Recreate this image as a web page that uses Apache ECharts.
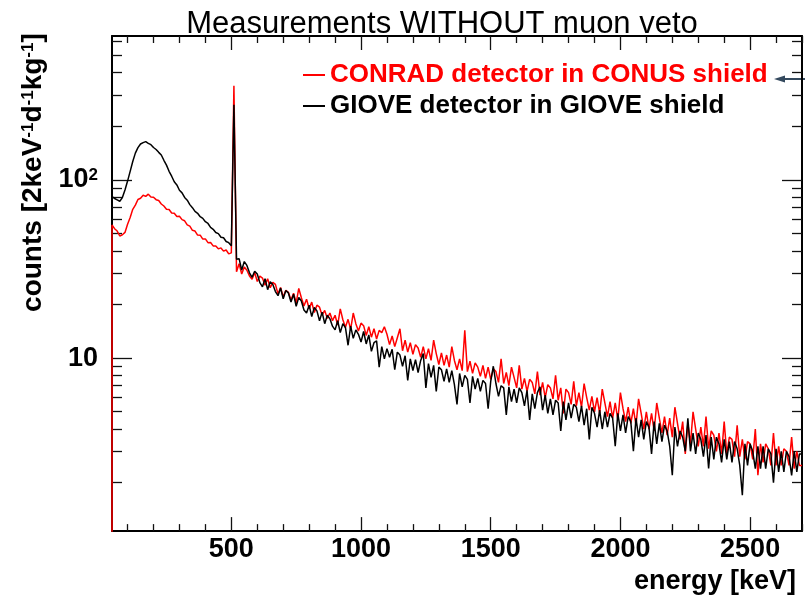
<!DOCTYPE html>
<html>
<head>
<meta charset="utf-8">
<script src="https://cdn.jsdelivr.net/npm/echarts@6/dist/echarts.min.js"></script>
<style>
  html, body { margin: 0; padding: 0; background: #fff; }
  #chart { width: 805px; height: 600px; }
</style>
</head>
<body>
<div id="chart"></div>
<script>
// ---------------- data (spectra read at 10 keV bin lower edges) ----------------
const energyKeV = [
  40,50,60,70,80,90,100,110,120,130,140,150,160,170,180,190,200,210,220,230,
  240,250,260,270,280,290,300,310,320,330,340,350,360,370,380,390,400,410,420,430,
  440,450,460,470,480,490,500,510,520,530,540,550,560,570,580,590,600,610,620,630,
  640,650,660,670,680,690,700,710,720,730,740,750,760,770,780,790,800,810,820,830,
  840,850,860,870,880,890,900,910,920,930,940,950,960,970,980,990,1000,1010,1020,1030,
  1040,1050,1060,1070,1080,1090,1100,1110,1120,1130,1140,1150,1160,1170,1180,1190,1200,1210,1220,1230,
  1240,1250,1260,1270,1280,1290,1300,1310,1320,1330,1340,1350,1360,1370,1380,1390,1400,1410,1420,1430,
  1440,1450,1460,1470,1480,1490,1500,1510,1520,1530,1540,1550,1560,1570,1580,1590,1600,1610,1620,1630,
  1640,1650,1660,1670,1680,1690,1700,1710,1720,1730,1740,1750,1760,1770,1780,1790,1800,1810,1820,1830,
  1840,1850,1860,1870,1880,1890,1900,1910,1920,1930,1940,1950,1960,1970,1980,1990,2000,2010,2020,2030,
  2040,2050,2060,2070,2080,2090,2100,2110,2120,2130,2140,2150,2160,2170,2180,2190,2200,2210,2220,2230,
  2240,2250,2260,2270,2280,2290,2300,2310,2320,2330,2340,2350,2360,2370,2380,2390,2400,2410,2420,2430,
  2440,2450,2460,2470,2480,2490,2500,2510,2520,2530,2540,2550,2560,2570,2580,2590,2600,2610,2620,2630,
  2640,2650,2660,2670,2680,2690
];
const energyUpperEdge = 2700;

const conradCounts = [
  55.8,53.2,51.6,48.4,49.2,50.7,56.4,61.5,68.3,72.1,77.6,78.8,81.9,80.7,83.1,80.2,79.9,77.4,76.6,73.2,
  71.3,68.4,68.1,65.2,64.9,62.3,62.4,59.8,58.9,55.9,55.0,52.1,51.6,49.0,48.9,46.5,46.6,44.4,44.5,42.6,
  42.5,41.0,41.5,39.8,40.4,38.4,38.9,337,30.5,33.8,29.6,32.4,31.1,28.9,27.7,30.2,26.9,28.8,28.1,25.6,
  27.9,24.8,26.6,25.9,22.9,24.9,22.0,24.0,23.4,21.2,23.1,20.4,24.6,21.8,19.6,21.4,18.9,20.6,18.0,19.8,
  19.3,17.4,18.5,16.7,17.9,16.2,17.4,15.3,18.9,16.4,14.9,16.5,14.5,17.9,15.6,14.2,15.7,15.2,13.4,15.0,
  13.1,14.6,12.8,14.3,13.9,15.0,13.6,11.9,13.3,11.6,13.0,14.6,11.0,12.6,10.8,12.2,10.5,11.9,11.4,10.1,
  11.6,9.9,11.3,9.7,12.6,10.6,9.2,10.7,9.1,10.4,8.9,11.6,9.7,8.6,9.9,8.5,14.3,8.4,9.6,8.2,
  9.4,8.9,7.9,9.1,7.7,8.9,7.6,8.7,8.4,7.3,9.9,7.2,8.3,7.0,8.9,7.8,6.8,9.1,6.7,7.7,
  6.5,7.6,7.3,6.3,8.4,6.2,7.3,6.0,7.1,6.8,5.9,8.0,5.8,6.8,4.9,6.7,6.4,5.5,7.4,5.4,
  6.4,5.3,7.2,6.0,5.1,6.1,5.0,6.0,4.9,6.7,5.6,4.7,5.7,4.6,5.6,4.5,6.4,5.2,4.4,5.3,
  4.3,5.2,4.2,5.9,4.9,4.0,5.0,4.0,4.9,3.9,5.6,4.6,3.8,4.7,3.7,4.6,3.6,5.3,4.3,3.5,
  4.4,2.9,4.3,3.3,5.0,4.0,3.2,4.1,3.2,4.7,3.1,3.9,3.7,3.0,3.8,2.9,4.4,2.9,3.6,3.5,
  2.8,4.2,2.8,3.5,2.7,3.4,3.3,2.7,4.0,2.2,3.3,2.6,3.3,3.1,2.5,3.8,2.5,3.2,2.5,3.1,
  3.0,2.5,3.6,2.4,3.0,2.5
];

const gioveCounts = [
  80.5,78.6,77.2,75.8,79.5,87.6,98.4,111.5,126.8,141.2,151.6,158.9,161.7,163.8,160.2,157.5,151.8,147.9,142.6,137.8,
  128.7,120.9,111.6,104.8,97.5,93.6,87.4,84.5,79.6,76.9,72.6,69.8,66.5,64.9,62.1,60.8,58.2,56.9,54.1,52.8,
  50.6,49.9,47.6,47.3,45.1,44.4,42.6,264,35.8,36.1,31.2,34.8,33.1,30.1,28.4,30.7,29.6,26.5,25.1,27.9,
  24.2,26.8,25.9,23.6,22.4,24.7,21.5,23.9,23.2,20.6,22.8,19.5,21.9,20.9,18.6,17.9,19.8,17.1,19.2,18.4,
  16.2,18.1,15.6,17.4,16.6,15.1,14.4,16.2,13.9,15.6,14.8,11.8,15.1,12.9,14.4,13.6,12.3,14.1,12.0,13.5,
  10.9,12.2,12.5,8.9,11.6,9.9,11.3,10.1,11.2,8.6,10.8,10.4,9.0,10.3,7.5,9.9,8.5,9.8,8.3,9.7,
  10.6,6.8,9.3,7.8,9.1,6.5,8.9,8.6,7.4,8.7,7.3,8.5,7.1,5.5,8.2,6.9,8.0,7.6,5.6,7.9,
  6.7,7.7,6.5,7.5,7.2,5.2,7.4,9.0,7.2,6.1,7.0,6.8,4.8,6.9,5.7,6.7,5.6,6.8,6.4,5.4,
  6.6,4.5,6.3,5.2,6.4,6.9,5.1,6.2,4.9,5.9,4.8,5.8,5.6,3.9,5.7,4.5,5.6,4.6,5.5,5.3,
  4.4,5.4,4.2,5.2,3.5,5.3,4.9,4.1,5.1,4.0,5.0,4.1,4.9,4.6,3.2,4.9,3.9,4.8,3.8,4.7,
  4.4,3.0,4.6,3.6,4.5,3.5,4.4,4.1,2.9,4.4,3.3,4.3,3.4,4.2,3.9,3.2,2.2,4.1,3.2,3.9,
  3.6,3.0,4.6,3.0,3.8,2.9,3.8,3.5,2.8,3.7,2.4,3.6,2.7,3.6,3.3,2.6,3.5,2.7,3.4,2.6,
  3.4,3.1,2.5,1.7,3.3,2.5,3.3,3.0,2.4,3.2,2.4,3.2,2.4,3.1,2.9,2.0,3.1,2.3,3.0,2.3,
  3.0,2.8,2.2,3.0,2.3,2.9
];

const seriesNames = ['CONRAD detector in CONUS shield', 'GIOVE detector in GIOVE shield'];
const seriesColors = ['#ff0000', '#000000'];

// axis ticks / labels
const xRange = [40, 2700];
const yRange = [1.07, 641];
const xMajorTicks = [500, 1000, 1500, 2000, 2500];
const xMinorTicks = [100,200,300,400,600,700,800,900,1100,1200,1300,1400,1600,1700,1800,1900,2100,2200,2300,2400,2600,2700];
const yMajorTicks = [10, 100];
const yMajorLabels = ['10', '10{sup|2}'];
const yMinorTicks = [2,3,4,5,6,7,8,9,20,30,40,50,60,70,80,90,200,300,400,500,600];
const histogramFloor = 0.5; // the histogram outline rises from below the axis minimum

// ---------------- chart ----------------
const FONT = "'Liberation Sans', Arial, Helvetica, sans-serif";

function histPoints(values, withFloor) {
  const pts = [];
  if (withFloor) pts.push([energyKeV[0], histogramFloor]);
  values.forEach((v, i) => pts.push([energyKeV[i], v]));
  pts.push([energyUpperEdge, values[values.length - 1]]);
  return pts;
}

function xAxisDef(position, ticks, len, showLine, labels) {
  return {
    type: 'value', position: position, min: xRange[0], max: xRange[1],
    axisLine: { show: showLine, onZero: false, lineStyle: { color: '#000', width: 2 } },
    axisTick: { show: true, inside: true, length: len, customValues: ticks, lineStyle: { color: '#111', width: 1.3 } },
    axisLabel: labels ? {
      show: true, customValues: ticks, margin: 5, color: '#000', fontSize: 27, fontWeight: 'bold', fontFamily: FONT,
      formatter: (v) => String(Math.round(v))
    } : { show: false },
    splitLine: { show: false }
  };
}
function yAxisDef(position, ticks, len, showLine, labels) {
  return {
    type: 'log', logBase: 10, position: position, min: yRange[0], max: yRange[1],
    axisLine: { show: showLine, onZero: false, lineStyle: { color: '#000', width: 2 } },
    axisTick: { show: true, inside: true, length: len, customValues: ticks, lineStyle: { color: '#111', width: 1.3 } },
    axisLabel: labels ? {
      show: true, customValues: ticks, margin: 14, color: '#000',
      fontSize: 27, fontWeight: 'bold', fontFamily: FONT,
      formatter: (v) => yMajorLabels[yMajorTicks.indexOf(Math.round(v))] || '',
      rich: { sup: { fontSize: 17, fontWeight: 'bold', fontFamily: FONT, verticalAlign: 'top', color: '#000' } }
    } : { show: false },
    splitLine: { show: false }
  };
}

const chart = echarts.init(document.getElementById('chart'), null, { renderer: 'canvas' });

const xMain = xAxisDef('bottom', xMajorTicks, 14, true, true);
xMain.name = 'energy [keV]';
xMain.nameLocation = 'middle';
xMain.nameGap = 31;
xMain.nameTextStyle = { fontSize: 27, fontWeight: 'bold', color: '#000', fontFamily: FONT, padding: [0, 0, 0, 516] };

const yMain = yAxisDef('left', yMajorTicks, 20, true, true);
yMain.name = 'counts [2keV{s|-1}d{s|-1}kg{s|-1}]';
yMain.nameLocation = 'middle';
yMain.nameGap = 63;
yMain.nameTextStyle = {
  fontSize: 28, fontWeight: 'bold', color: '#000', fontFamily: FONT, padding: [0, 0, 0, 222],
  rich: { s: { fontSize: 17, fontWeight: 'bold', fontFamily: FONT, verticalAlign: 'top', color: '#000' } }
};

chart.setOption({
  animation: false,
  backgroundColor: '#ffffff',
  title: {
    text: 'Measurements WITHOUT muon veto',
    left: 437, top: 4, textAlign: 'center',
    textStyle: { fontSize: 31, fontWeight: 'normal', color: '#000', fontFamily: FONT }
  },
  legend: {
    orient: 'vertical', left: 303, top: 62, itemGap: 5, padding: 0,
    itemWidth: 22, itemHeight: 2, icon: 'rect',
    selectedMode: false,
    textStyle: { fontSize: 26, fontWeight: 'bold', fontFamily: FONT, lineHeight: 26 },
    data: [
      { name: seriesNames[0], textStyle: { color: seriesColors[0] } },
      { name: seriesNames[1], textStyle: { color: seriesColors[1] } }
    ]
  },
  grid: { left: 112, right: 3, top: 36, bottom: 66, containLabel: false },
  xAxis: [
    xMain,
    xAxisDef('bottom', xMinorTicks, 7, false, false),
    xAxisDef('top', xMajorTicks, 14, true, false),
    xAxisDef('top', xMinorTicks, 7, false, false)
  ],
  yAxis: [
    yMain,
    yAxisDef('left', yMinorTicks, 10, false, false),
    yAxisDef('right', yMajorTicks, 20, true, false),
    yAxisDef('right', yMinorTicks, 10, false, false)
  ],
  series: [
    {
      name: seriesNames[0], type: 'line', showSymbol: false, symbol: 'none',
      xAxisIndex: 0, yAxisIndex: 0, clip: true, sampling: null,
      color: seriesColors[0], lineStyle: { color: seriesColors[0], width: 1.5 },
      data: histPoints(conradCounts, true), z: 3
    },
    {
      name: seriesNames[1], type: 'line', showSymbol: false, symbol: 'none',
      xAxisIndex: 0, yAxisIndex: 0, clip: true, sampling: null,
      color: seriesColors[1], lineStyle: { color: seriesColors[1], width: 1.5 },
      data: histPoints(gioveCounts, false), z: 4
    }
  ],
  graphic: [
    {
      type: 'group', z: 10,
      children: [
        { type: 'line', shape: { x1: 782, y1: 79, x2: 805, y2: 79 }, style: { stroke: '#34495e', lineWidth: 2 } },
        { type: 'polygon', shape: { points: [[774, 79], [785, 75.5], [785, 82.5]] }, style: { fill: '#34495e' } }
      ]
    }
  ]
});
</script>
</body>
</html>
